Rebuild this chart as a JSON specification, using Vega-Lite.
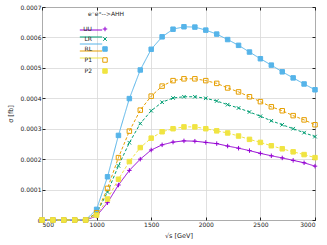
{
  "$schema": "https://vega.github.io/schema/vega-lite/v6.json",
  "width": 273,
  "height": 213,
  "autosize": {"type": "none"},
  "padding": {"left": 42, "top": 7, "right": 12, "bottom": 25},
  "background": "white",
  "config": {
    "font": "DejaVu Sans",
    "view": {"stroke": "black", "strokeWidth": 1},
    "axis": {
      "labelFontSize": 6,
      "titleFontSize": 6.5,
      "titleFontWeight": "normal",
      "labelColor": "#222",
      "titleColor": "#222",
      "tickSize": -3,
      "tickColor": "#222",
      "domain": false,
      "gridColor": "#d8d8d8",
      "gridWidth": 0.8
    },
    "legend": {
      "titleFontSize": 6,
      "titleFontWeight": "normal",
      "labelFontSize": 6,
      "titleColor": "#222",
      "labelColor": "#222",
      "symbolSize": 20,
      "symbolStrokeWidth": 1,
      "rowPadding": 1,
      "labelAlign": "right",
      "labelOffset": -16,
      "labelExpr": "{'UU':'σUU','LR':'σLR','RL':'σRL','P1':'σ(0.8,-0.8)','P2':'σ(-0.6,0.6)'}[datum.label]"
    }
  },
  "data": {
    "values": [
      {"s": 500, "UU": 0, "LR": 0, "RL": 0, "P1": 0, "P2": 0},
      {"s": 600, "UU": 0, "LR": 0, "RL": 0, "P1": 0, "P2": 0},
      {"s": 700, "UU": 0, "LR": 0, "RL": 0, "P1": 0, "P2": 0},
      {"s": 800, "UU": 0, "LR": 0, "RL": 0, "P1": 0, "P2": 0},
      {"s": 900, "UU": 0, "LR": 0, "RL": 0, "P1": 0, "P2": 0},
      {"s": 1000, "UU": 0.000013, "LR": 0.000022, "RL": 0.000035, "P1": 0.000024, "P2": 0.000016},
      {"s": 1100, "UU": 0.000057, "LR": 0.000092, "RL": 0.000142, "P1": 0.000104, "P2": 0.000069},
      {"s": 1200, "UU": 0.000115, "LR": 0.000178, "RL": 0.000278, "P1": 0.000205, "P2": 0.000134},
      {"s": 1300, "UU": 0.000163, "LR": 0.000254, "RL": 0.000399, "P1": 0.000292, "P2": 0.000192},
      {"s": 1400, "UU": 0.000200, "LR": 0.000317, "RL": 0.000493, "P1": 0.000361, "P2": 0.000238},
      {"s": 1500, "UU": 0.000230, "LR": 0.000359, "RL": 0.000561, "P1": 0.000407, "P2": 0.000269},
      {"s": 1600, "UU": 0.000247, "LR": 0.000387, "RL": 0.000602, "P1": 0.000440, "P2": 0.000290},
      {"s": 1700, "UU": 0.000256, "LR": 0.000401, "RL": 0.000627, "P1": 0.000458, "P2": 0.000300},
      {"s": 1800, "UU": 0.000260, "LR": 0.000405, "RL": 0.000635, "P1": 0.000464, "P2": 0.000306},
      {"s": 1900, "UU": 0.000259, "LR": 0.000405, "RL": 0.000634, "P1": 0.000464, "P2": 0.000306},
      {"s": 2000, "UU": 0.000255, "LR": 0.000400, "RL": 0.000624, "P1": 0.000458, "P2": 0.000300},
      {"s": 2100, "UU": 0.000251, "LR": 0.000391, "RL": 0.000611, "P1": 0.000449, "P2": 0.000293},
      {"s": 2200, "UU": 0.000243, "LR": 0.000379, "RL": 0.000593, "P1": 0.000434, "P2": 0.000286},
      {"s": 2300, "UU": 0.000236, "LR": 0.000368, "RL": 0.000574, "P1": 0.000421, "P2": 0.000276},
      {"s": 2400, "UU": 0.000228, "LR": 0.000355, "RL": 0.000552, "P1": 0.000405, "P2": 0.000265},
      {"s": 2500, "UU": 0.000219, "LR": 0.000341, "RL": 0.000530, "P1": 0.000389, "P2": 0.000255},
      {"s": 2600, "UU": 0.000211, "LR": 0.000326, "RL": 0.000509, "P1": 0.000372, "P2": 0.000244},
      {"s": 2700, "UU": 0.000204, "LR": 0.000313, "RL": 0.000487, "P1": 0.000359, "P2": 0.000234},
      {"s": 2800, "UU": 0.000196, "LR": 0.000300, "RL": 0.000467, "P1": 0.000343, "P2": 0.000224},
      {"s": 2900, "UU": 0.000188, "LR": 0.000287, "RL": 0.000447, "P1": 0.000329, "P2": 0.000215},
      {"s": 3000, "UU": 0.000177, "LR": 0.000274, "RL": 0.000428, "P1": 0.000313, "P2": 0.000205}
    ]
  },
  "layer": [
    {
      "transform": [{"fold": ["UU", "LR", "RL", "P1", "P2"], "as": ["line_series", "sigma"]}],
      "mark": {"type": "line", "strokeWidth": 1},
      "encoding": {
        "x": {"field": "s", "type": "quantitative", "scale": {"domain": [500, 3000], "nice": false}, "axis": {"values": [500, 1000, 1500, 2000, 2500, 3000], "format": "d", "title": "√s [GeV]", "labelPadding": 4, "titlePadding": 5}},
        "y": {"field": "sigma", "type": "quantitative", "scale": {"domain": [0, 0.0007], "nice": false}, "axis": {"values": [0, 0.0001, 0.0002, 0.0003, 0.0004, 0.0005, 0.0006, 0.0007], "labelExpr": "datum.value == 0 ? '0' : format(datum.value, '.4f')", "title": "σ [fb]", "labelPadding": 4, "titlePadding": 7}},
        "stroke": {"field": "line_series", "type": "nominal", "sort": ["UU", "LR", "RL", "P1", "P2"], "scale": {"range": ["#9400d3", "#009e73", "#56b4e9", "#e69f00", "#f0e442"]},
          "legend": {"title": null, "orient": "none", "legendX": 46, "legendY": 20, "symbolType": "M-5,0L5,0", "labelOpacity": 0}},
        "strokeDash": {"field": "line_series", "type": "nominal", "sort": ["UU", "LR", "RL", "P1", "P2"], "scale": {"range": [[1, 0], [3, 2], [1, 0], [3, 2], [3, 2]]}, "legend": null},
        "order": {"field": "s", "type": "quantitative"}
      }
    },
    {
      "transform": [{"fold": ["UU", "LR", "RL", "P1", "P2"], "as": ["series", "sigma"]}],
      "mark": {"type": "point", "filled": false, "size": 20, "strokeWidth": 1, "opacity": 1},
      "encoding": {
        "x": {"field": "s", "type": "quantitative", "axis": null},
        "y": {"field": "sigma", "type": "quantitative", "axis": null},
        "color": {"field": "series", "type": "nominal", "title": "e⁻e⁺-->AHH", "scale": {"domain": ["UU", "LR", "RL", "P1", "P2"], "range": ["#9400d3", "#009e73", "#56b4e9", "#e69f00", "#f0e442"]},
          "legend": {"orient": "none", "legendX": 46, "legendY": 4, "titlePadding": 9, "titleAnchor": "middle"}},
        "shape": {"field": "series", "type": "nominal", "title": "e⁻e⁺-->AHH", "scale": {"domain": ["UU", "LR", "RL", "P1", "P2"], "range": ["M-1,0L1,0M0,-1L0,1", "M-0.8,-0.8L0.8,0.8M-0.8,0.8L0.8,-0.8", "square", "square", "square"]}},
        "fill": {"field": "series", "type": "nominal", "title": "e⁻e⁺-->AHH", "scale": {"domain": ["UU", "LR", "RL", "P1", "P2"], "range": ["transparent", "transparent", "#56b4e9", "transparent", "#f0e442"]}}
      }
    },
    {
      "transform": [{"fold": ["UU", "LR", "RL", "P1", "P2"], "as": ["series", "sigma"]}],
      "mark": {"type": "point", "opacity": 0},
      "encoding": {
        "x": {"field": "s", "type": "quantitative", "axis": {"orient": "top", "values": [500, 1000, 1500, 2000, 2500, 3000], "labels": false, "title": null, "grid": false}},
        "y": {"field": "sigma", "type": "quantitative", "axis": {"orient": "right", "values": [0, 0.0001, 0.0002, 0.0003, 0.0004, 0.0005, 0.0006, 0.0007], "labels": false, "title": null, "grid": false}}
      }
    }
  ],
  "resolve": {"axis": {"x": "independent", "y": "independent"}}
}
